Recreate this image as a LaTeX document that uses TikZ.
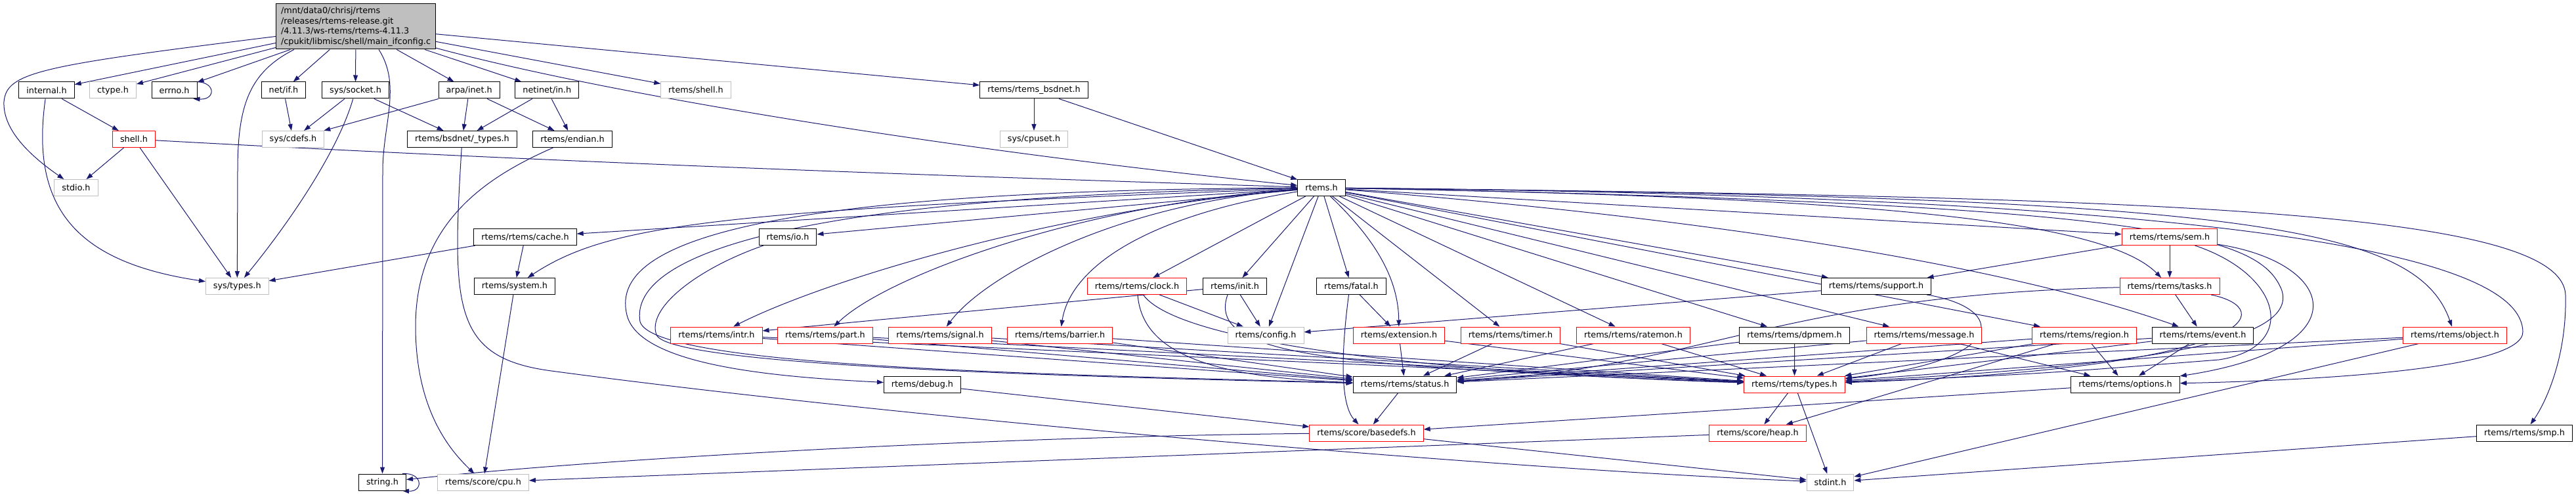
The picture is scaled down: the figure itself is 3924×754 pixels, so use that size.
\documentclass[tikz,border=0pt]{standalone}
\usepackage{fontspec}
\setmainfont{DejaVu Sans}
\usepackage{xcolor}
\usetikzlibrary{arrows.meta}
\definecolor{edgeblue}{HTML}{191970}
\definecolor{grey75}{HTML}{BFBFBF}
\pgfdeclarelayer{back}
\pgfsetlayers{back,main}

\begin{document}
\begin{tikzpicture}[x=1pt, y=-1pt,
        every node/.style = {font=\fontsize{12.8pt}{15.5pt}\selectfont},
        file/.style = {draw=black, fill=white, line width=1pt, inner xsep=11.5pt, inner ysep=0pt, minimum height=25pt},
        extfile/.style = {file, draw=grey75},
        cutfile/.style = {file, draw=red},
        dep/.style = {draw=edgeblue, line width=1pt, -{Triangle[length=10pt,width=7pt]}}]
        \useasboundingbox (0,0) rectangle (3924,754);

        \node[file, fill=grey75, align=left, inner xsep=7.5pt, minimum height=69pt] (src) at (542,40.5)
          {/mnt/data0/chrisj/rtems\\/releases/rtems-release.git\\/4.11.3/ws-rtems/rtems-4.11.3\\/cpukit/libmisc/shell/main\_ifconfig.c};

        \node[file] (internal) at (71,137.5) {internal.h};
        \node[extfile] (ctype) at (172,137.5) {ctype.h};
        \node[file] (errno) at (265.6,137.5) {errno.h};
        \node[file] (netif) at (432,137.5) {net/if.h};
        \node[file] (socket) at (541.5,137.5) {sys/socket.h};
        \node[file] (arpainet) at (714.7,137.5) {arpa/inet.h};
        \node[file] (netinetin) at (833.3,137.5) {netinet/in.h};
        \node[extfile] (rshell) at (1060,137.5) {rtems/shell.h};
        \node[file] (bsdnet) at (1575,137.5) {rtems/rtems\_bsdnet.h};

        \node[cutfile] (shellh) at (204,212) {shell.h};
        \node[extfile] (cdefs) at (446.5,212) {sys/cdefs.h};
        \node[file] (bsdtypes) at (704,212) {rtems/bsdnet/\_types.h};
        \node[file] (endian) at (872,212) {rtems/endian.h};
        \node[extfile] (cpuset) at (1575,212) {sys/cpuset.h};

        \node[extfile] (stdio) at (116,286) {stdio.h};
        \node[file] (rtemsh) at (2013,286) {rtems.h};

        \node[file] (cache) at (800,361) {rtems/rtems/cache.h};
        \node[file] (ioh) at (1200,361) {rtems/io.h};
        \node[cutfile] (sem) at (3305,361) {rtems/rtems/sem.h};

        \node[extfile] (systypes) at (361.3,436) {sys/types.h};
        \node[file] (system) at (784,436) {rtems/system.h};
        \node[cutfile] (clock) at (1732,436) {rtems/rtems/clock.h};
        \node[file] (init) at (1881,436) {rtems/init.h};
        \node[file] (fatal) at (2058.5,436) {rtems/fatal.h};
        \node[file] (support) at (2858,436) {rtems/rtems/support.h};
        \node[cutfile] (tasks) at (3305,436) {rtems/rtems/tasks.h};

        \node[cutfile] (intr) at (1091.5,510.5) {rtems/rtems/intr.h};
        \node[cutfile] (part) at (1257,510.5) {rtems/rtems/part.h};
        \node[cutfile] (signal) at (1432,510.5) {rtems/rtems/signal.h};
        \node[cutfile] (barrier) at (1614.6,510.5) {rtems/rtems/barrier.h};
        \node[extfile] (config) at (1928,510.5) {rtems/config.h};
        \node[cutfile] (extension) at (2131,510.5) {rtems/extension.h};
        \node[cutfile] (timer) at (2301,510.5) {rtems/rtems/timer.h};
        \node[cutfile] (ratemon) at (2488,510.5) {rtems/rtems/ratemon.h};
        \node[file] (dpmem) at (2733.6,510.5) {rtems/rtems/dpmem.h};
        \node[cutfile] (message) at (2931,510.5) {rtems/rtems/message.h};
        \node[cutfile] (region) at (3175,510.5) {rtems/rtems/region.h};
        \node[file] (event) at (3355.5,510.5) {rtems/rtems/event.h};
        \node[cutfile] (object) at (3739.5,510.5) {rtems/rtems/object.h};

        \node[file] (debug) at (1405,585.5) {rtems/debug.h};
        \node[file] (status) at (2140,585.5) {rtems/rtems/status.h};
        \node[cutfile] (types) at (2733.5,585.5) {rtems/rtems/types.h};
        \node[file] (options) at (3237.5,585.5) {rtems/rtems/options.h};

        \node[cutfile] (basedefs) at (2081.5,659.5) {rtems/score/basedefs.h};
        \node[cutfile] (heap) at (2677.5,659.5) {rtems/score/heap.h};
        \node[file] (smp) at (3845.5,659.5) {rtems/rtems/smp.h};

        \node[file] (stringh) at (582.5,734.5) {string.h};
        \node[extfile] (cpu) at (736,734.5) {rtems/score/cpu.h};
        \node[extfile] (stdint) at (2788,734.5) {stdint.h};

        \begin{pgfonlayer}{back}
        \fill[white] (0,0) rectangle (3924,754);

        \draw[dep] (src) .. controls (60,100) and (10,110) .. (6,155) .. controls (4,200) and (50,240) .. (stdio);
        \draw[dep] (src) -- (internal);
        \draw[dep] (src) -- (ctype);
        \draw[dep] (src) -- (errno);
        \draw[dep] ([xshift=-94pt]src.south) .. controls (380,110) and (362,160) .. (362,260) -- (systypes);
        \draw[dep] (src) -- (netif);
        \draw[dep] (src) -- (socket);
        \draw[dep] ([xshift=35pt]src.south) .. controls (612,130) and (583,190) .. (583,260) -- (stringh);
        \draw[dep] (src) -- (arpainet);
        \draw[dep] (src) -- (netinetin);
        \draw[dep] (src) -- (rshell);
        \draw[dep] (src) -- (bsdnet);
        \draw[dep] (src) .. controls (950,150) and (1500,235) .. (rtemsh);

        \draw[dep] (internal) -- (shellh);
        \draw[dep] (internal) .. controls (45,320) and (120,400) .. (systypes);
        \draw[dep] ([xshift=-6pt]errno.north east) .. controls +(35,-2) and +(35,2) .. ([xshift=-6pt]errno.south east);
        \draw[dep] (shellh) -- (stdio);
        \draw[dep] (shellh) -- (systypes);
        \draw[dep] (shellh) .. controls (900,250) and (1500,270) .. (rtemsh);
        \draw[dep] (netif) -- (cdefs);
        \draw[dep] (socket) -- (cdefs);
        \draw[dep] (socket) .. controls (515,230) and (440,340) .. (systypes);
        \draw[dep] (socket) -- (bsdtypes);
        \draw[dep] (arpainet) -- (cdefs);
        \draw[dep] (arpainet) -- (bsdtypes);
        \draw[dep] (arpainet) -- (endian);
        \draw[dep] (netinetin) -- (bsdtypes);
        \draw[dep] (netinetin) -- (endian);
        \draw[dep] (bsdnet) -- (cpuset);
        \draw[dep] (bsdnet) -- (rtemsh);
        \draw[dep] (bsdtypes) .. controls (688,470) and (690,545) .. (840,565) .. controls (1400,640) and (2300,715) .. (stdint);
        \draw[dep] (endian) .. controls (740,270) and (632,340) .. (633,500) .. controls (634,630) and (690,690) .. (cpu);

        \draw[dep] (rtemsh) -- (cache);
        \draw[dep] (rtemsh) .. controls (1100,320) and (930,340) .. (system);
        \draw[dep] (rtemsh) -- (ioh);
        \draw[dep] (rtemsh) .. controls (1600,320) and (1250,430) .. (intr);
        \draw[dep] (rtemsh) .. controls (1650,310) and (1350,420) .. (part);
        \draw[dep] (rtemsh) .. controls (1700,310) and (1500,420) .. (signal);
        \draw[dep] (rtemsh) .. controls (1740,330) and (1630,410) .. (barrier);
        \draw[dep] (rtemsh) -- (clock);
        \draw[dep] (rtemsh) -- (init);
        \draw[dep] (rtemsh) -- (config);
        \draw[dep] (rtemsh) -- (fatal);
        \draw[dep] (rtemsh) .. controls (2090,360) and (2130,420) .. (extension);
        \draw[dep] (rtemsh) -- (timer);
        \draw[dep] (rtemsh) -- (ratemon);
        \draw[dep] (rtemsh) -- (dpmem);
        \draw[dep] (rtemsh) -- (message);
        \draw[dep] (rtemsh) -- (region);
        \draw[dep] (rtemsh) -- (support);
        \draw[dep] (rtemsh) -- (sem);
        \draw[dep] (rtemsh) .. controls (2800,300) and (3200,330) .. (tasks);
        \draw[dep] (rtemsh) .. controls (2700,340) and (3100,420) .. (event);
        \draw[dep] (rtemsh) .. controls (3400,300) and (3680,340) .. (object);
        \draw[dep] (rtemsh) .. controls (3300,300) and (3905,320) .. (3908,450) .. controls (3910,540) and (3880,610) .. (smp);
        \draw[dep] (rtemsh) .. controls (3500,300) and (3840,400) .. (3843,505) .. controls (3845,565) and (3500,580) .. (options);
        \draw[dep] (rtemsh) .. controls (1100,290) and (930,380) .. (955,480) .. controls (975,560) and (1200,575) .. (debug);
        \draw[dep] (rtemsh) .. controls (1150,300) and (960,400) .. (975,490) .. controls (995,560) and (1600,570) .. (status);
        \draw[dep] (rtemsh) .. controls (3300,310) and (3440,360) .. (3475,440) .. controls (3510,530) and (3200,560) .. (types);

        \draw[dep] (cache) -- (systypes);
        \draw[dep] (cache) -- (system);
        \draw[dep] (system) -- (cpu);
        \draw[dep] (ioh) .. controls (1060,410) and (985,470) .. (1000,510) .. controls (1020,560) and (1700,575) .. (status);
        \draw[dep] (init) -- (intr);
        \draw[dep] (init) -- (config);
        \draw[dep] ([xshift=-11pt]init.south) .. controls (1845,520) and (1950,545) .. (2240,563) .. controls (2450,575) .. (types);
        \draw[dep] (clock) -- (config);
        \draw[dep] (clock) .. controls (1740,540) and (1850,575) .. (status);
        \draw[dep] (clock) .. controls (1800,530) and (2250,570) .. (types);
        \draw[dep] (fatal) -- (extension);
        \draw[dep] ([xshift=-4pt]fatal.south) .. controls (2040,560) and (2045,620) .. (basedefs);
        \draw[dep] (extension) -- (status);
        \draw[dep] (extension) -- (types);
        \draw[dep] (timer) -- (status);
        \draw[dep] (timer) -- (types);
        \draw[dep] (ratemon) -- (status);
        \draw[dep] (ratemon) -- (types);
        \draw[dep] (dpmem) -- (status);
        \draw[dep] (dpmem) -- (types);
        \draw[dep] (message) -- (status);
        \draw[dep] (message) -- (types);
        \draw[dep] (message) -- (options);
        \draw[dep] (region) -- (status);
        \draw[dep] (region) -- (types);
        \draw[dep] (region) -- (options);
        \draw[dep] (region) -- (heap);
        \draw[dep] (support) -- (config);
        \draw[dep] (support) .. controls (3060,470) and (3060,550) .. (types);
        \draw[dep] (sem) -- (support);
        \draw[dep] (sem) -- (tasks);
        \draw[dep] (sem) .. controls (3480,420) and (3500,530) .. (3380,548) .. controls (3100,570) .. (types);
        \draw[dep] (sem) .. controls (3560,400) and (3600,530) .. (options);
        \draw[dep] (tasks) -- (event);
        \draw[dep] (tasks) .. controls (2700,450) and (2600,560) .. (status);
        \draw[dep] (tasks) .. controls (3470,470) and (3450,560) .. (types);
        \draw[dep] (event) -- (options);
        \draw[dep] (event) -- (status);
        \draw[dep] (event) -- (types);
        \draw[dep] (object) -- (status);
        \draw[dep] (object) -- (types);
        \draw[dep] (object) -- (stdint);
        \draw[dep] (intr) -- (status);
        \draw[dep] (intr) -- (types);
        \draw[dep] (part) -- (status);
        \draw[dep] (part) -- (types);
        \draw[dep] (signal) -- (status);
        \draw[dep] (signal) -- (types);
        \draw[dep] (barrier) -- (status);
        \draw[dep] (barrier) -- (types);

        \draw[dep] (debug) -- (basedefs);
        \draw[dep] (status) -- (basedefs);
        \draw[dep] (options) -- (basedefs);
        \draw[dep] (types) -- (heap);
        \draw[dep] (types) -- (stdint);
        \draw[dep] (heap) -- (cpu);
        \draw[dep] (basedefs) .. controls (1500,665) and (900,700) .. (stringh);
        \draw[dep] (basedefs) -- (stdint);
        \draw[dep] (smp) -- (stdint);
        \draw[dep] ([xshift=-6pt]stringh.north east) .. controls +(32,-2) and +(32,2) .. ([xshift=-6pt]stringh.south east);
        \end{pgfonlayer}
      \end{tikzpicture}
\end{document}
